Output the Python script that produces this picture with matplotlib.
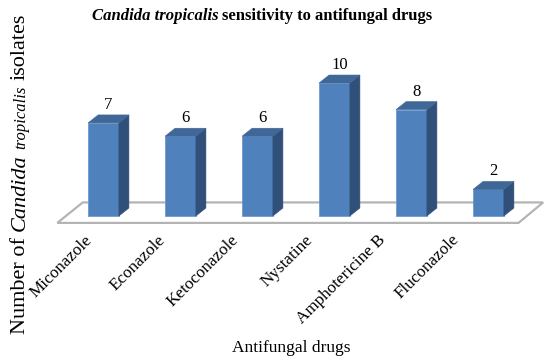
"""Candida tropicalis sensitivity bar chart (Excel-style 3D columns)."""

import matplotlib
matplotlib.use("Agg")
import matplotlib.pyplot as plt
from matplotlib.patches import Polygon

drugs = ["Miconazole", "Econazole", "Ketoconazole", "Nystatine",
         "Amphotericine B", "Fluconazole"]
isolates = [7, 6, 6, 10, 8, 2]

SERIF = "Liberation Serif"
FRONT = "#4f81bd"
TOP = "#3f6797"
SIDE = "#30507a"

W, H = 548, 363
fig = plt.figure(figsize=(W / 100, H / 100), dpi=100)
fig.patch.set_facecolor("white")

# axes placed so category i sits at 103.5 + 77 i px, value 0 at y=216 px
ax = fig.add_axes([50 / W, 123 / H, 498 / W, 180 / H])
ax.set_xlim(-0.695, 5.773)
ax.set_ylim(-1.805, 11.73)
ax.axis("off")

bw = 0.40
dx, dy = 0.13, 0.60

floor = Polygon([(-0.60, -0.52), (-0.27, 1.02), (5.71, 1.02), (5.39, -0.52)],
                closed=True, facecolor="white", edgecolor="#b4b4b4", lw=1.6,
                zorder=1)
ax.add_patch(floor)

xs = list(range(len(drugs)))
ax.bar(xs, isolates, width=bw, color=FRONT, edgecolor="#6d9ad0", lw=0.6,
       zorder=3)
for x, v in zip(xs, isolates):
    r, l = x + bw / 2, x - bw / 2
    ax.add_patch(Polygon([(r, 0), (r + dx, dy), (r + dx, v + dy), (r, v)],
                         closed=True, facecolor=SIDE, edgecolor=SIDE, lw=0.4,
                         zorder=3))
    ax.add_patch(Polygon([(l, v), (l + dx, v + dy), (r + dx, v + dy), (r, v)],
                         closed=True, facecolor=TOP, edgecolor=TOP, lw=0.4,
                         zorder=3))
    ax.text(x + dx / 2, v + dy + 0.45, str(v), ha="center", va="baseline",
            fontsize=12, family=SERIF, zorder=4)

for x, name in zip(xs, drugs):
    shift = (8 + 3.6 * x) / 77
    ax.text(x - shift, -1.2, name, rotation=45, ha="right", va="top",
            fontsize=12.3, family=SERIF)

renderer = fig.canvas.get_renderer()


def text_width(s, **kw):
    t = fig.text(0, 0, s, **kw)
    w = t.get_window_extent(renderer).width
    t.remove()
    return w


big = dict(family=SERIF, fontsize=12, fontweight="bold")
sp = text_width("a a", **big) - text_width("aa", **big)
title = [("Candida tropicalis", dict(big, style="italic")),
         ("sensitivity to antifungal drugs", big)]
widths = [text_width(s, **kw) for s, kw in title]
x = 262 - (sum(widths) + sp) / 2
for (s, kw), w in zip(title, widths):
    fig.text(x / W, (H - 20) / H, s, ha="left", va="baseline", **kw)
    x += w + sp

yl = dict(family=SERIF, fontsize=16)
ysp = text_width("a a", **yl) - text_width("aa", **yl)
ylab = [("Number of", yl), ("Candida", dict(yl, style="italic")),
        ("tropicalis", dict(yl, style="italic", fontsize=12)),
        ("isolates", yl)]
y = H - 334
for s, kw in ylab:
    fig.text(25 / W, y / H, s, rotation=90, rotation_mode="anchor",
             ha="left", va="baseline", **kw)
    y += text_width(s, **kw) + ysp

fig.text(291 / W, (H - 352) / H, "Antifungal drugs", ha="center",
         va="baseline", family=SERIF, fontsize=12.5)

fig.savefig("out.png", dpi=100)
